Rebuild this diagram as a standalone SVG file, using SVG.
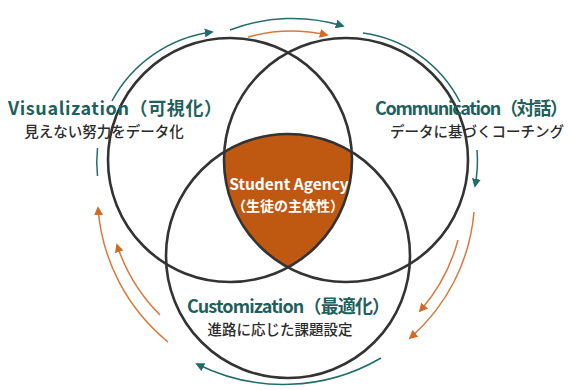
<svg xmlns="http://www.w3.org/2000/svg" width="574" height="390" viewBox="0 0 574 390">
<defs>
<marker id="ht" viewBox="0 0 10 10" refX="8" refY="5" markerWidth="9" markerHeight="9" markerUnits="userSpaceOnUse" orient="auto"><path d="M0,0 L10,5 L0,10 z" fill="#246c6a"/></marker>
<marker id="ho" viewBox="0 0 10 10" refX="8" refY="5" markerWidth="9" markerHeight="9" markerUnits="userSpaceOnUse" orient="auto"><path d="M0,0 L10,5 L0,10 z" fill="#d06a25"/></marker>
<style>
.c{fill:none;stroke:#333;stroke-width:2.6}
.t{fill:none;stroke:#246c6a;stroke-width:1.5}
.o{fill:none;stroke:#d8783a;stroke-width:1.5}
.title{font-family:"Noto Sans CJK JP","Noto Sans",sans-serif;font-weight:700;font-size:18px;fill:#1f5f5c}
.sub{font-family:"Noto Sans CJK JP",sans-serif;font-weight:500;font-size:14.5px;fill:#2b2b2b;text-anchor:middle}
.ctr{font-family:"Noto Sans CJK JP","Noto Sans",sans-serif;font-weight:700;fill:#fff;text-anchor:middle}
</style>
</defs>
<rect width="574" height="390" fill="#fff"/>
<g id="center">
<path d="M224.3 152 A122 122 0 0 1 351.7 152 A122 122 0 0 1 288 267.3 A122 122 0 0 1 224.3 152 Z" fill="#bf5912"/>
<text class="ctr" x="289" y="190" font-size="15.5">Student Agency</text>
<text class="ctr" x="288" y="211" font-size="14">（生徒の主体性）</text>
</g>
<g id="visualization">
<circle class="c" cx="230" cy="160" r="122"/>
<text class="title" x="8" y="115" textLength="214" lengthAdjust="spacing">Visualization（可視化）</text>
<text class="sub" x="104" y="137">見えない努力をデータ化</text>
</g>
<g id="communication">
<circle class="c" cx="346" cy="160" r="122"/>
<text class="title" x="375" y="115" font-size="17" textLength="193" lengthAdjust="spacing">Communication（対話）</text>
<text class="sub" x="477" y="137">データに基づくコーチング</text>
</g>
<g id="customization">
<circle class="c" cx="288" cy="256" r="122"/>
<text class="title" x="187" y="313" textLength="203" lengthAdjust="spacing">Customization（最適化）</text>
<text class="sub" x="280" y="335">進路に応じた課題設定</text>
</g>
<g id="connectors">
<path class="t" d="M112 101 A133 133 0 0 1 212 32" marker-end="url(#ht)"/>
<path class="t" d="M230 30 A175 175 0 0 1 343 26" marker-end="url(#ht)"/>
<path class="o" d="M248 37 A162 162 0 0 1 327 35" marker-end="url(#ho)"/>
<path class="t" d="M363 33 A128 128 0 0 1 460 102"/>
<path class="t" d="M97.5 148 A133 133 0 0 0 97.5 176"/>
<path class="t" d="M477 150 A130 130 0 0 1 475 186" marker-end="url(#ht)"/>
<path class="o" d="M474 212 A188 188 0 0 1 410 338" marker-end="url(#ho)"/>
<path class="o" d="M458 240 A177 177 0 0 1 420 311" marker-end="url(#ho)"/>
<path class="o" d="M168 342 A191 191 0 0 1 98 208" marker-end="url(#ho)"/>
<path class="o" d="M160 315 A178 178 0 0 1 117 245" marker-end="url(#ho)"/>
<path class="t" d="M381 358 A193 193 0 0 1 197 364" marker-end="url(#ht)"/>
</g>
</svg>
